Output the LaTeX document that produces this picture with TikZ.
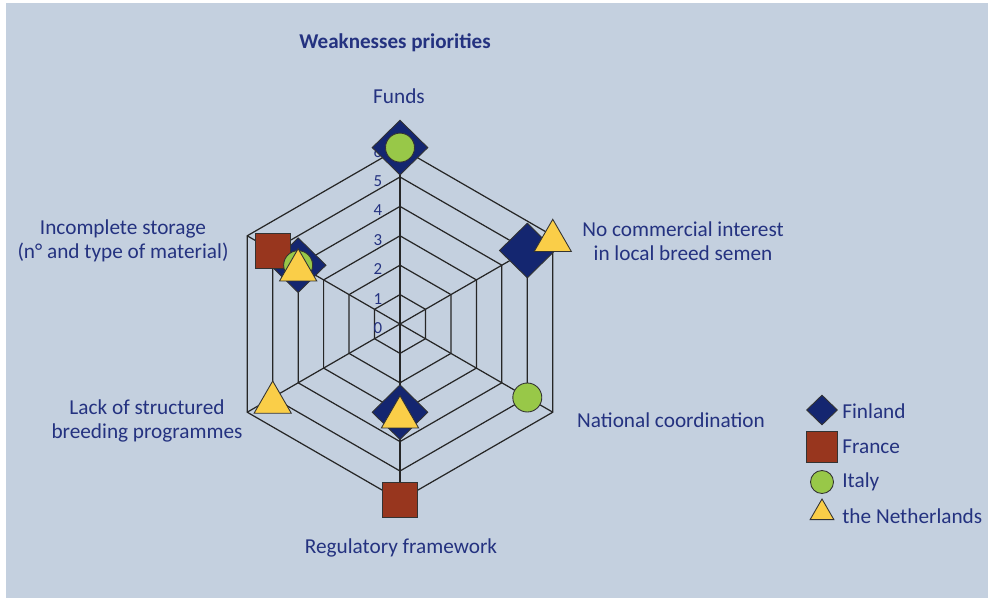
\documentclass[tikz,border=0pt]{standalone}
\usepackage{fontspec}
\setmainfont{Carlito}
\usetikzlibrary{shapes.geometric}
\definecolor{bg}{RGB}{196,208,223}
\definecolor{txt}{RGB}{36,50,128}
\definecolor{fin}{RGB}{20,38,112}
\definecolor{fra}{RGB}{152,54,30}
\definecolor{ita}{RGB}{152,200,72}
\definecolor{ned}{RGB}{250,206,72}
\tikzset{
  lbl/.style={text=txt, font=\fontsize{12.1}{13.6}\selectfont, align=center, inner sep=0},
  tick/.style={text=txt, font=\fontsize{9.6}{10}\selectfont, inner sep=0},
  grid/.style={draw=black!85, line width=0.7pt},
  fi/.style={diamond, draw=black!80, line width=0.5pt, fill=fin, minimum width=1.12cm, minimum height=1.1cm, inner sep=0},
  fr/.style={rectangle, draw=black!80, line width=0.5pt, fill=fra, minimum size=0.7cm, inner sep=0},
  it/.style={circle, draw=black!80, line width=0.5pt, fill=ita, minimum size=0.58cm, inner sep=0},
  nl/.style={regular polygon, regular polygon sides=3, draw=black!80, line width=0.5pt, fill=ned, minimum size=0.86cm, inner sep=0, yshift=-0.1cm},
}

\begin{document}
\begin{tikzpicture}[x=0.02cm, y=-0.02cm]
  \useasboundingbox (0,0) rectangle (988,598);
  \fill[bg] (6,3) rectangle (988,598);

  % title and axis labels
  \node[lbl, font=\fontsize{12}{13.6}\selectfont\bfseries] (title) at (395,43) {Weaknesses priorities};
  \node[lbl] (funds) at (399,96) {Funds};
  \node[lbl] (nci) at (683,241) {No commercial interest\\in local breed semen};
  \node[lbl] (nc) at (671,420) {National coordination};
  \node[lbl] (rf) at (401,548) {Regulatory framework};
  \node[lbl] (lsb) at (147,421) {Lack of structured\\breeding programmes};
  \node[lbl] (is) at (123,241) {Incomplete storage\\(n° and type of material)};

  \begin{scope}[shift={(400,324)}, y=0.02cm]
    \def\lev{29.4};
    \coordinate (c) at (0,0);
    % grid
    \foreach \k in {1,...,6} {
        \draw[grid] (90:{\k*\lev}) -- (30:{\k*\lev}) -- (-30:{\k*\lev}) -- (-90:{\k*\lev})
          -- (210:{\k*\lev}) -- (150:{\k*\lev}) -- cycle;
    }
    \foreach \a in {90,30,-30,-90,210,150} {
        \coordinate (ax\a) at (\a:{6*\lev});
        \draw[grid] (c) -- (ax\a);
    }
    \foreach \k in {0,...,6} {
        \node[tick] (t\k) at (-22,{\k*\lev-4}) {\k};
    }
    % Finland
    \node[fi] (fi1) at (90:{6*\lev}) {};
    \node[fi] (fi2) at (30:{5*\lev}) {};
    \node[fi] (fi3) at (-90:{3*\lev}) {};
    \node[fi] (fi4) at (150:{4*\lev}) {};
    % France
    \node[fr] (fr1) at (-90:{6*\lev}) {};
    \node[fr] (fr2) at (150:{5*\lev}) {};
    % Italy
    \node[it] (it1) at (90:{6*\lev}) {};
    \node[it] (it2) at (-30:{5*\lev}) {};
    \node[it] (it3) at (150:{4*\lev}) {};
    % the Netherlands
    \node[nl] (nl1) at (30:{6*\lev}) {};
    \node[nl] (nl2) at (-90:{3*\lev}) {};
    \node[nl] (nl3) at (210:{5*\lev}) {};
    \node[nl] (nl4) at (150:{4*\lev}) {};
  \end{scope}

  % legend
  \node[fi, minimum width=0.62cm, minimum height=0.6cm] (kfi) at (822,410) {};
  \node[fr, minimum size=0.62cm] (kfr) at (822,447) {};
  \node[it, minimum size=0.46cm] (kit) at (822,482) {};
  \node[nl, minimum size=0.55cm, yshift=0.165cm] (knl) at (822,516) {};
  \node[lbl, anchor=west] (lfi) at (842,411) {Finland};
  \node[lbl, anchor=west] (lfr) at (842,447) {France};
  \node[lbl, anchor=west] (lit) at (842,482) {Italy};
  \node[lbl, anchor=west] (lnl) at (842,516) {the Netherlands};
\end{tikzpicture}
\end{document}
